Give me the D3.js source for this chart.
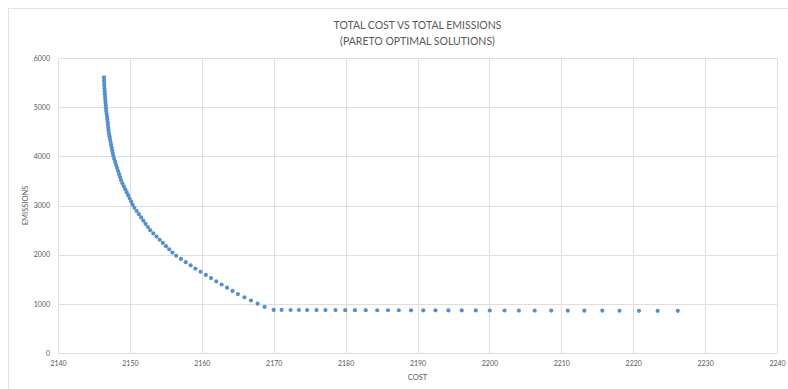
<!DOCTYPE html>
<html>
<head>
<meta charset="utf-8">
<script src="https://cdn.jsdelivr.net/npm/d3@7"></script>
<style>
  body { margin: 0; background: #fff; }
  text { font-family: Lato, "Open Sans", sans-serif; fill: #595959; }
</style>
</head>
<body>
<div id="chart"></div>
<script>
// Pareto points: cost vs emissions
const cost = [
  2146.40, 2146.41, 2146.42, 2146.44, 2146.46, 2146.49, 2146.52, 2146.55, 2146.58, 2146.61, 2146.64,
  2146.67, 2146.71, 2146.76, 2146.81, 2146.86, 2146.91, 2146.95, 2146.99, 2147.03,
  2147.09, 2147.16, 2147.23, 2147.31, 2147.38, 2147.46, 2147.54, 2147.61, 2147.69,
  2147.81, 2147.95, 2148.09, 2148.22, 2148.36, 2148.50, 2148.63, 2148.77,
  2148.96, 2149.16, 2149.36, 2149.57, 2149.77, 2149.97, 2150.18, 2150.37,
  2150.63, 2150.94, 2151.25, 2151.56, 2151.87, 2152.18, 2152.50, 2152.81,
  2153.25, 2153.70, 2154.14, 2154.58, 2155.02, 2155.46, 2155.91,
  2156.43, 2157.10, 2157.77, 2158.44, 2159.11,
  2159.83, 2160.56, 2161.28, 2162.01,
  2162.76, 2163.51, 2164.27, 2165.02,
  2165.93, 2166.84, 2167.76, 2168.73,
  2170.0, 2171.1, 2172.35, 2173.5, 2174.65, 2175.95, 2177.2, 2178.6, 2179.95, 2181.3,
  2182.8, 2184.4, 2185.9, 2187.4, 2189.1, 2190.8, 2192.5, 2194.3, 2196.15, 2198.1,
  2200.05, 2202.1, 2204.1, 2206.3, 2208.6, 2210.9, 2213.2, 2215.7, 2218.1, 2220.8,
  2223.4, 2226.2
];
const emissions = [
  5606, 5549, 5492, 5435, 5378, 5321, 5264, 5207, 5150, 5093, 5036,
  4979, 4922, 4865, 4808, 4751, 4694, 4637, 4580, 4523,
  4466, 4409, 4352, 4295, 4238, 4181, 4124, 4067, 4010,
  3948, 3886, 3824, 3762, 3700, 3638, 3576, 3514,
  3452, 3390, 3328, 3266, 3204, 3142, 3080, 3018,
  2953, 2888, 2823, 2758, 2693, 2628, 2563, 2498,
  2433, 2368, 2303, 2238, 2173, 2108, 2043,
  1978, 1913, 1848, 1783, 1718,
  1653, 1588, 1523, 1458,
  1393, 1328, 1263, 1198,
  1133, 1068, 1003, 938,
  876, 876, 875, 875, 874, 874, 873, 873, 872, 871,
  871, 870, 870, 869, 868, 868, 867, 866, 866, 865,
  864, 864, 863, 862, 862, 861, 860, 860, 859, 858,
  858, 857
];
const xTicks = [2140, 2150, 2160, 2170, 2180, 2190, 2200, 2210, 2220, 2230, 2240];
const yTicks = [0, 1000, 2000, 3000, 4000, 5000, 6000];
const titleLines = ["TOTAL COST VS TOTAL EMISSIONS", "(PARETO OPTIMAL SOLUTIONS)"];

const W = 788, H = 389;
const margin = { top: 58, right: 11, bottom: 36, left: 58 },
    width = W - margin.left - margin.right,
    height = H - margin.top - margin.bottom;

const root = d3.select("#chart").append("svg")
    .attr("width", W)
    .attr("height", H);

// chart area border (only left/top show in the picture)
root.append("rect")
    .attr("x", 8.5).attr("y", 8.5)
    .attr("width", W).attr("height", H)
    .attr("fill", "none")
    .attr("stroke", "#e3e3e3");

const svg = root.append("g")
    .attr("transform", `translate(${margin.left},${margin.top})`);

const x = d3.scaleLinear().domain([2140, 2240]).range([0, width]);
const y = d3.scaleLinear().domain([0, 6000]).range([height, 0]);

// gridlines
svg.append("g")
    .selectAll("line")
    .data(yTicks)
    .join("line")
    .attr("x1", 0).attr("x2", width)
    .attr("y1", d => Math.round(y(d)) + 0.5)
    .attr("y2", d => Math.round(y(d)) + 0.5)
    .attr("stroke", "#dedede");
svg.append("g")
    .selectAll("line")
    .data(xTicks)
    .join("line")
    .attr("y1", 0).attr("y2", height)
    .attr("x1", d => Math.round(x(d)) + 0.5)
    .attr("x2", d => Math.round(x(d)) + 0.5)
    .attr("stroke", "#dedede");

// axes (labels only, no tick marks)
const xAxis = svg.append("g")
    .attr("transform", `translate(0,${height})`)
    .call(d3.axisBottom(x).tickValues(xTicks).tickFormat(d3.format("d")).tickSize(0).tickPadding(8));
const yAxis = svg.append("g")
    .call(d3.axisLeft(y).tickValues(yTicks).tickFormat(d3.format("d")).tickSize(0).tickPadding(8));
[xAxis, yAxis].forEach(a => {
    a.select(".domain").remove();
    a.selectAll("text").style("font-size", "7px").attr("fill", "#595959");
});

// points
const data = cost.map((c, i) => ({ cost: c, emissions: emissions[i] }));
svg.append("g")
    .selectAll("circle")
    .data(data)
    .join("circle")
    .attr("cx", d => x(d.cost))
    .attr("cy", d => y(d.emissions))
    .attr("r", 2.1)
    .attr("fill", "#5590cd");

// axis titles
svg.append("text")
    .attr("x", width / 2)
    .attr("y", height + 27)
    .attr("text-anchor", "middle")
    .style("font-size", "7.5px")
    .text("COST");
svg.append("text")
    .attr("transform", `translate(-30,${height / 2}) rotate(-90)`)
    .attr("text-anchor", "middle")
    .style("font-size", "7.5px")
    .text("EMISSIONS");

// title
root.append("g")
    .selectAll("text")
    .data(titleLines)
    .join("text")
    .attr("x", margin.left + width / 2)
    .attr("y", (d, i) => 29 + i * 16)
    .attr("text-anchor", "middle")
    .style("font-size", "10.5px")
    .text(d => d);
</script>
</body>
</html>
